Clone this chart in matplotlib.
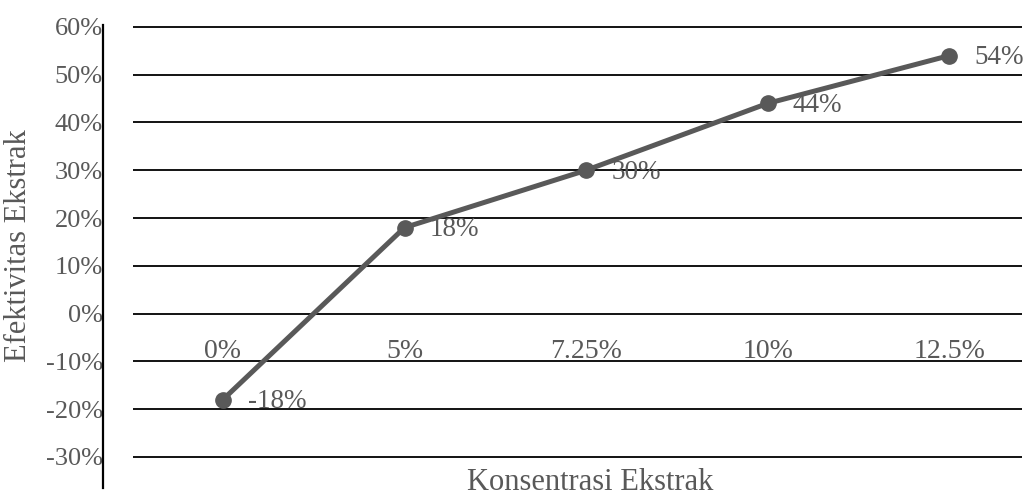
import matplotlib.pyplot as plt

# Data
categories = ["0%", "5%", "7.25%", "10%", "12.5%"]
values = [-18, 18, 30, 44, 54]
yticks = [-30, -20, -10, 0, 10, 20, 30, 40, 50, 60]

plt.rcParams['font.family'] = ['Liberation Serif', 'DejaVu Serif']
gray = '#595959'

fig = plt.figure(figsize=(10.28, 4.96), dpi=100)
ax = fig.add_axes([133 / 1028, 8 / 496, (1022 - 133) / 1028, (488 - 25) / 496])

# move the left spine first (set_position resets the ticks)
for s in ['top', 'right', 'bottom']:
    ax.spines[s].set_visible(False)
ax.spines['left'].set_position(('outward', 21.6))
ax.spines['left'].set_linewidth(1.6)
ax.spines['left'].set_color('black')

x = list(range(len(categories)))
ax.plot(x, values, color=gray, linewidth=3.6, marker='o', markersize=11,
        solid_capstyle='round', zorder=3)

# data labels right of each point
for xi, v in zip(x, values):
    ax.annotate(f"{v}%", (xi, v), xytext=(18, -1.5), textcoords='offset points',
                ha='left', va='center', fontsize=19.5, color=gray, zorder=4)

# category labels sit just above the -10% line
for xi, c in zip(x, categories):
    ax.text(xi, -9.2, c, ha='center', va='baseline', fontsize=20, color=gray)

ax.set_xlim(-0.495, 4.40)
ax.set_ylim(-36.5, 60.4)
ax.set_yticks(yticks)
ax.set_yticklabels([f"{t}%" for t in yticks])
ax.set_xticks([])
ax.tick_params(axis='y', length=0, pad=0, labelsize=19, labelcolor=gray)
ax.grid(axis='y', color='black', linewidth=1.3)
ax.set_axisbelow(True)

fig.text(590 / 1028, 1 - 490 / 496, "Konsentrasi Ekstrak", ha='center', va='baseline',
         fontsize=22, color=gray)
fig.text(19 / 1028, 1 - 246 / 496, "Efektivitas Ekstrak", ha='center', va='center',
         rotation=90, fontsize=22, color=gray)

fig.savefig("out.png", dpi=100)
